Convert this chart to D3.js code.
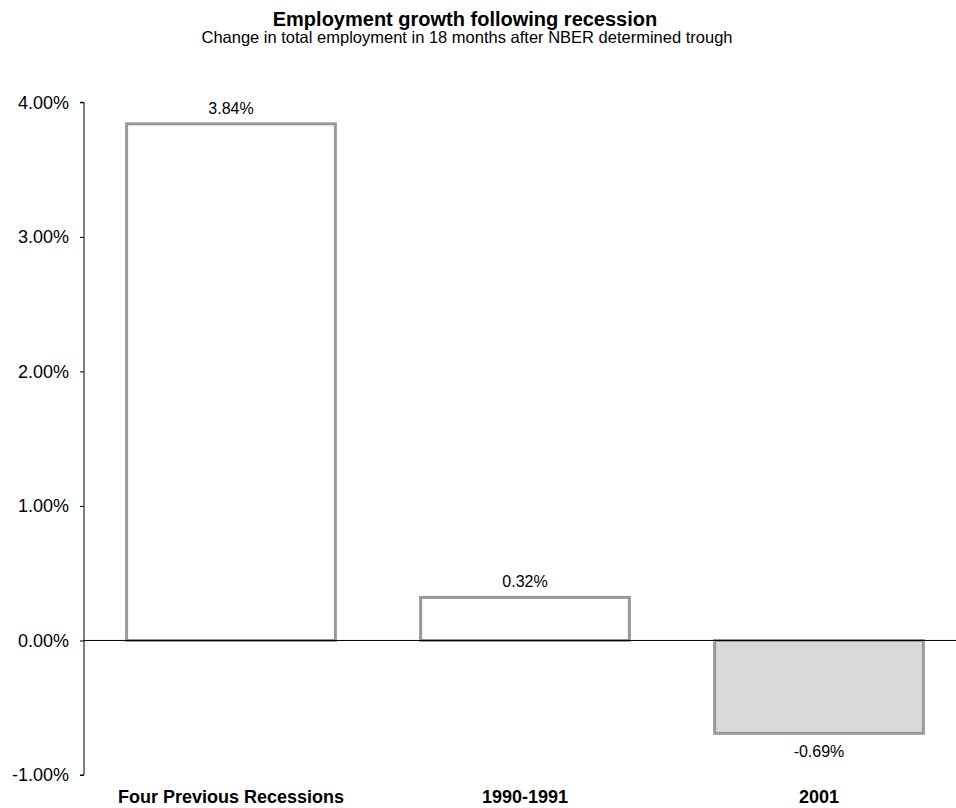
<!DOCTYPE html>
<html>
<head>
<meta charset="utf-8">
<script src="https://cdn.jsdelivr.net/npm/d3@7/dist/d3.min.js"></script>
<style>
  html, body { margin: 0; padding: 0; background: #fff; }
  svg { display: block; font-family: "Liberation Sans", Arial, sans-serif; }
</style>
</head>
<body>
<svg id="chart" width="956" height="808"></svg>
<script>
const categories = ["Four Previous Recessions", "1990-1991", "2001"];
const values = [3.84, 0.32, -0.69];
const fills = ["#ffffff", "#ffffff", "#d9d9d9"];
const yTicks = [-1, 0, 1, 2, 3, 4];
const title = "Employment growth following recession";
const subtitle = "Change in total employment in 18 months after NBER determined trough";

const W = 956, H = 808;
const svg = d3.select("#chart");
const axisX = 84;
const pct = d => (d < 0 ? "-" : "") + Math.abs(d).toFixed(2) + "%";

const x = d3.scaleBand().domain(categories).range([84, 966]).paddingInner(0.29).paddingOuter(0.145);
const y = d3.scaleLinear().domain([-1, 4]).range([775, 102.3]);

svg.append("text").attr("x", 465).attr("y", 26).attr("text-anchor", "middle")
  .attr("font-size", 20).attr("font-weight", "bold").text(title);
svg.append("text").attr("x", 467).attr("y", 43).attr("text-anchor", "middle")
  .attr("font-size", 16.5).text(subtitle);

// y axis
const yAxis = d3.axisLeft(y).tickValues(yTicks).tickSize(4).tickPadding(11)
  .tickFormat(pct);
const ga = svg.append("g").attr("transform", `translate(${axisX},0)`).call(yAxis);
ga.select(".domain").attr("d", `M-4,${y(4)}H0V${y(-1)}H-4`).attr("stroke", "#000");
ga.selectAll(".tick line").attr("stroke", "#000");
ga.selectAll(".tick text").attr("font-size", 18).attr("font-family", "Liberation Sans, Arial, sans-serif").attr("fill", "#000");

// bars
svg.selectAll("rect.bar").data(values).join("rect")
  .attr("class", "bar")
  .attr("x", (d, i) => x(categories[i]))
  .attr("width", x.bandwidth())
  .attr("y", d => y(Math.max(0, d)))
  .attr("height", d => Math.abs(y(d) - y(0)))
  .attr("fill", (d, i) => fills[i])
  .attr("stroke", "#999999")
  .attr("stroke-width", 3);

// zero line
svg.append("line").attr("x1", axisX).attr("x2", W).attr("y1", y(0)).attr("y2", y(0))
  .attr("stroke", "#000").attr("stroke-width", 1);

// value labels
svg.selectAll("text.val").data(values).join("text")
  .attr("class", "val")
  .attr("x", (d, i) => x(categories[i]) + x.bandwidth() / 2)
  .attr("y", d => d >= 0 ? y(d) - 10 : y(d) + 24)
  .attr("text-anchor", "middle")
  .attr("font-size", 16)
  .text(pct);

// category labels
svg.selectAll("text.cat").data(categories).join("text")
  .attr("class", "cat")
  .attr("x", d => x(d) + x.bandwidth() / 2)
  .attr("y", 803)
  .attr("text-anchor", "middle")
  .attr("font-size", 18)
  .attr("font-weight", "bold")
  .text(d => d);
</script>
</body>
</html>
